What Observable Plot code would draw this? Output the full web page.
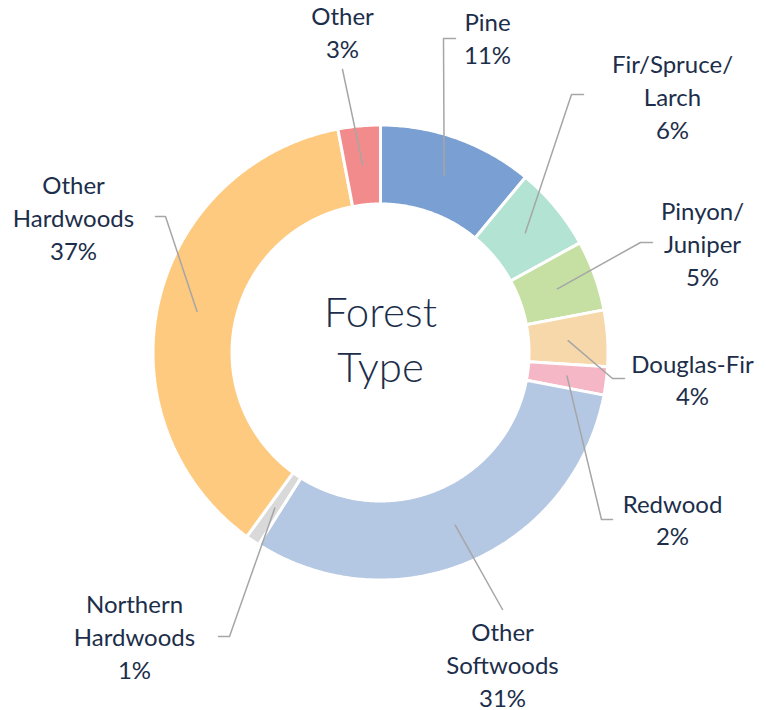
<!DOCTYPE html>
<html>
<head>
<meta charset="utf-8">
<script src="https://cdn.jsdelivr.net/npm/d3@7"></script>
<script src="https://cdn.jsdelivr.net/npm/@observablehq/plot@0.6"></script>
<style>
  html, body { margin: 0; padding: 0; background: #fff; }
  #chart svg { display: block; }
</style>
</head>
<body>
<div id="chart"></div>
<script>
// ---- Data ----
const categories = ["Pine", "Fir/Spruce/Larch", "Pinyon/Juniper", "Douglas-Fir", "Redwood",
  "Other Softwoods", "Northern Hardwoods", "Other Hardwoods", "Other"];
const shares = [11, 6, 5, 4, 2, 31, 1, 37, 3];
const labelText = ["Pine", "Fir/Spruce/\nLarch", "Pinyon/\nJuniper", "Douglas-Fir", "Redwood",
  "Other\nSoftwoods", "Northern\nHardwoods", "Other\nHardwoods", "Other"];
const centerTitle = "Forest\nType";

// ---- Styles / layout ----
const colors = ["#7a9fd2", "#b3e3d2", "#c6e0a4", "#f6d8aa", "#f5b6c6", "#b4c7e3", "#d9d9d9", "#fdca80", "#f28c8c"];
const W = 766, H = 710;
const cx = 380, cy = 352, rOuter = 227.5, rInner = 148.5, rLabel = 188;
// label block centres and leader-line elbow / tick points (layout only)
const labelPos = [[487, 36.5], [672, 95], [702, 242], [692, 378], [672, 518], [502, 663], [134, 635], [73, 216], [342, 30.5]];
const leaderPath = [
  [[455, 38], [443, 38]],
  [[583, 94], [571, 94]],
  [[652, 242], [640, 242]],
  [[624, 378], [612, 378]],
  [[612, 519], [601, 519]],
  [[502, 609]],
  [[218, 636], [229, 636]],
  [[155, 216], [165, 216]],
  [[342, 69]]
];
const textColor = "#1c2e4a";
const font = "Lato, 'Open Sans', sans-serif";

// ---- Geometry from data ----
const pie = d3.pie().sort(null).value(d => d)(shares);
const pt = (a, r) => ({x: cx + r * Math.sin(a), y: cy - r * Math.cos(a)});
const slices = pie.map((p, i) => {
  const pts = [];
  const n = Math.max(4, Math.ceil((p.endAngle - p.startAngle) / 0.01));
  for (let k = 0; k <= n; k++) pts.push(pt(p.startAngle + (p.endAngle - p.startAngle) * k / n, rOuter));
  for (let k = n; k >= 0; k--) pts.push(pt(p.startAngle + (p.endAngle - p.startAngle) * k / n, rInner));
  pts.push(pts[0]);
  return {name: categories[i], color: colors[i], pts};
});
const leaders = pie.map((p, i) => {
  const mid = (p.startAngle + p.endAngle) / 2;
  const pts = leaderPath[i].map(([x, y]) => ({x, y}));
  pts.push(pt(mid, rLabel));
  return pts;
});
const labels = labelText.map((t, i) => ({text: `${t}\n${shares[i]}%`, x: labelPos[i][0], y: labelPos[i][1]}));

const marks = [];
slices.forEach(s => marks.push(Plot.line(s.pts, {x: "x", y: "y", fill: s.color, stroke: "white", strokeWidth: 3, strokeLinejoin: "miter", curve: "linear"})));
leaders.forEach(l => marks.push(Plot.line(l, {x: "x", y: "y", stroke: "#a6a6a6", strokeWidth: 1.5, curve: "linear"})));
marks.push(Plot.text(labels, {x: "x", y: "y", text: "text", fill: textColor, fontSize: 24, lineHeight: 1.37, lineAnchor: "middle", textAnchor: "middle", fontFamily: font}));
marks.push(Plot.text([centerTitle], {x: () => cx, y: () => 336.5, text: d => d, fill: textColor, fontSize: 42, fontWeight: 300, lineHeight: 1.31, lineAnchor: "middle", textAnchor: "middle", fontFamily: font}));

const chart = Plot.plot({
  width: W, height: H, margin: 0,
  x: {domain: [0, W], range: [0, W], axis: null},
  y: {domain: [0, H], range: [0, H], axis: null},
  style: {background: "white", fontFamily: font},
  marks
});
document.getElementById("chart").appendChild(chart);
</script>
</body>
</html>
